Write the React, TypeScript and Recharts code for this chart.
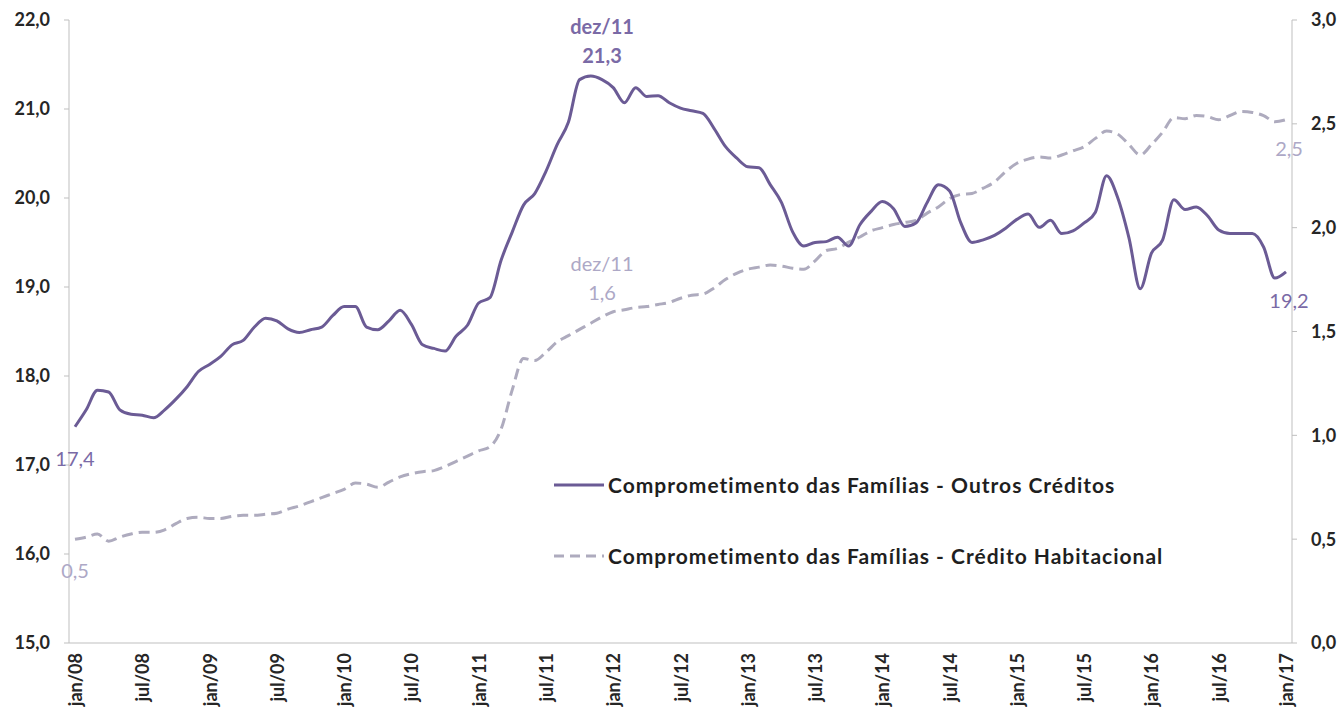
import { LineChart, Line, XAxis, YAxis } from 'recharts';

const meses = ['jan', 'fev', 'mar', 'abr', 'mai', 'jun', 'jul', 'ago', 'set', 'out', 'nov', 'dez'];
const anos = ['08', '09', '10', '11', '12', '13', '14', '15', '16', '17'];

// Comprometimento - Outros Créditos (eixo esquerdo), jan/08 a jan/17
const outros = [
  17.43, 17.62, 17.84, 17.82, 17.62, 17.57, 17.56, 17.53, 17.62, 17.74, 17.88, 18.05,
  18.13, 18.22, 18.35, 18.4, 18.55, 18.65, 18.62, 18.53, 18.49, 18.52, 18.55, 18.68,
  18.78, 18.78, 18.55, 18.52, 18.62, 18.74, 18.58, 18.35, 18.31, 18.28, 18.45, 18.57,
  18.82, 18.88, 19.3, 19.62, 19.92, 20.05, 20.3, 20.6, 20.85, 21.33, 21.37, 21.33,
  21.24, 21.07, 21.24, 21.14, 21.15, 21.07, 21.01, 20.98, 20.95, 20.78, 20.58, 20.45,
  20.35, 20.34, 20.15, 19.95, 19.62, 19.46, 19.5, 19.51, 19.56, 19.46, 19.7, 19.85,
  19.96, 19.88, 19.68, 19.72, 19.95, 20.15, 20.08, 19.72, 19.5, 19.53, 19.58, 19.66,
  19.76, 19.82, 19.67, 19.75, 19.6, 19.63, 19.72, 19.84, 20.25, 20.0, 19.55, 18.98,
  19.38, 19.53, 19.98, 19.87, 19.9, 19.8, 19.64, 19.6, 19.6, 19.6, 19.45, 19.1,
  19.17,
];

// Comprometimento - Crédito Habitacional (eixo direito)
const habitacional = [
  0.5, 0.51, 0.525, 0.49, 0.51, 0.525, 0.533, 0.533, 0.545, 0.575, 0.6, 0.605,
  0.6, 0.6, 0.61, 0.615, 0.615, 0.62, 0.625, 0.645, 0.66, 0.68, 0.7, 0.72,
  0.74, 0.77, 0.765, 0.75, 0.775, 0.8, 0.815, 0.825, 0.83, 0.85, 0.875, 0.9,
  0.925, 0.945, 1.03, 1.22, 1.37, 1.36, 1.4, 1.45, 1.48, 1.51, 1.54, 1.57,
  1.595, 1.605, 1.615, 1.62, 1.63, 1.64, 1.66, 1.675, 1.68, 1.71, 1.75, 1.78,
  1.8, 1.81, 1.82, 1.815, 1.805, 1.8, 1.84, 1.89, 1.9, 1.93, 1.955, 1.985,
  2.0, 2.015, 2.025, 2.035, 2.07, 2.1, 2.14, 2.16, 2.165, 2.19, 2.22, 2.27,
  2.31, 2.33, 2.34, 2.335, 2.35, 2.37, 2.39, 2.43, 2.465, 2.45, 2.4, 2.35,
  2.4, 2.46, 2.53, 2.525, 2.54, 2.535, 2.52, 2.54, 2.56, 2.555, 2.54, 2.51,
  2.52,
];

const ticksEsq = [15, 16, 17, 18, 19, 20, 21, 22];
const ticksDir = [0, 0.5, 1, 1.5, 2, 2.5, 3];
const nomeOutros = 'Comprometimento das Famílias - Outros Créditos';
const nomeHab = 'Comprometimento das Famílias - Crédito Habitacional';
const picoIdx = 47; // dez/11

const meses109: string[] = [];
anos.forEach((a) => meses.forEach((m) => meses109.push(`${m}/${a}`)));
const data = outros.map((v, i) => ({ mes: meses109[i], outros: v, hab: habitacional[i] }));

const FONT = 'Lato, "Open Sans", sans-serif';
const ROXO = '#6B5B95';
const CINZA = '#AEABBE';
const fmt = (v: number) => v.toFixed(1).replace('.', ',');

function XTick({ x, y, payload }: any) {
  return (
    <text
      x={x}
      y={y}
      transform={`rotate(-90 ${x} ${y})`}
      textAnchor='end'
      dominantBaseline='central'
      fontFamily={FONT}
      fontWeight={700}
      fontSize={18}
      fill='#262626'
    >
      {payload.value}
    </text>
  );
}

function rotulos(serie: number[], cor: string, negritoPico: boolean) {
  const ultimo = serie.length - 1;
  return (p: any) => {
    const { cx, cy, index } = p;
    const base = { fontFamily: FONT, fontSize: 20, fill: cor, textAnchor: 'middle' as const, dominantBaseline: 'central' as const };
    if (index === 0)
      return <text key={`l${index}`} x={cx} y={cy + 31} {...base}>{fmt(serie[0])}</text>;
    if (index === picoIdx)
      return (
        <g key={`l${index}`}>
          <text x={cx} y={cy - 54} {...base} fontWeight={negritoPico ? 700 : 400}>{data[picoIdx].mes}</text>
          <text x={cx} y={cy - 25} {...base} fontWeight={negritoPico ? 700 : 400}>{fmt(serie[picoIdx])}</text>
        </g>
      );
    if (index === ultimo)
      return <text key={`l${index}`} x={cx + 3} y={cy + 28} {...base}>{fmt(serie[ultimo])}</text>;
    return <g key={`l${index}`} />;
  };
}

function Legenda() {
  const item = (top: number, dash: string | undefined, cor: string, nome: string) => (
    <div style={{ position: 'absolute', left: 552, top, display: 'flex', alignItems: 'center' }}>
      <svg width={54} height={6}>
        <line x1={2} y1={3} x2={52} y2={3} stroke={cor} strokeWidth={3} strokeDasharray={dash} />
      </svg>
      <span
        style={{
          fontFamily: FONT,
          fontWeight: 700,
          fontSize: 21,
          letterSpacing: 1,
          color: '#1f1f1f',
          marginLeft: 2,
          whiteSpace: 'nowrap',
        }}
      >
        {nome}
      </span>
    </div>
  );
  return (
    <>
      {item(472, undefined, ROXO, nomeOutros)}
      {item(543, '10 6', CINZA, nomeHab)}
    </>
  );
}

export default function App() {
  return (
    <div style={{ position: 'absolute', left: 0, top: 0, width: 1342, height: 716, background: '#fff' }}>
      <LineChart width={1342} height={716} data={data} margin={{ top: 20, right: 0, left: 0, bottom: 0 }}>
        <XAxis
          dataKey='mes'
          interval={5}
          height={73}
          padding={{ left: 6, right: 6 }}
          tickLine={false}
          tickSize={0}
          tickMargin={10}
          stroke='#BFBFBF'
          tick={<XTick />}
        />
        <YAxis
          yAxisId='esq'
          domain={[15, 22]}
          ticks={ticksEsq}
          width={69}
          tickSize={5}
          tickMargin={14}
          stroke='#BFBFBF'
          tickFormatter={fmt}
          tick={{ fontFamily: FONT, fontWeight: 700, fontSize: 18, fill: '#262626' }}
        />
        <YAxis
          yAxisId='dir'
          orientation='right'
          domain={[0, 3]}
          ticks={ticksDir}
          width={50}
          tickSize={5}
          tickMargin={14}
          stroke='#BFBFBF'
          tickFormatter={fmt}
          tick={{ fontFamily: FONT, fontWeight: 700, fontSize: 18, fill: '#262626' }}
        />
        <Line
          yAxisId='dir'
          dataKey='hab'
          name={nomeHab}
          type='monotone'
          stroke={CINZA}
          strokeWidth={3}
          strokeDasharray='11 6'
          dot={rotulos(habitacional, '#ADA8C6', false)}
          activeDot={false}
          isAnimationActive={false}
        />
        <Line
          yAxisId='esq'
          dataKey='outros'
          name={nomeOutros}
          type='monotone'
          stroke={ROXO}
          strokeWidth={3}
          dot={rotulos(outros, '#7A6AA6', true)}
          activeDot={false}
          isAnimationActive={false}
        />
      </LineChart>
      <Legenda />
    </div>
  );
}
